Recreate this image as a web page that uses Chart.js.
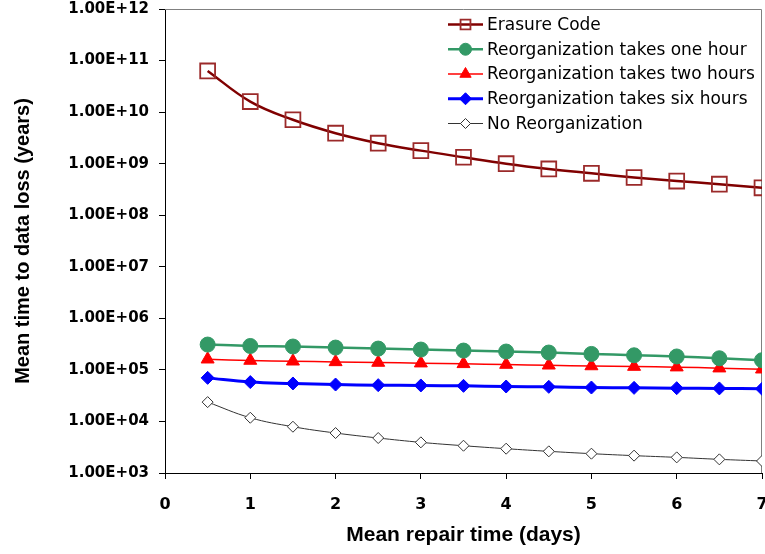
<!DOCTYPE html>
<html>
<head>
<meta charset="utf-8">
<script src="https://cdn.jsdelivr.net/npm/chart.js@4"></script>
<style>
  html, body { margin: 0; padding: 0; background: #fff; overflow: hidden; }
  #wrap { width: 765px; height: 554px; }
</style>
</head>
<body>
<div id="wrap"><canvas id="mttdl"></canvas></div>
<script>
// repair time in days
const repairDays = [0.5, 1, 1.5, 2, 2.5, 3, 3.5, 4, 4.5, 5, 5.5, 6, 6.5, 7];

const erasureCode = [6.3e10, 1.6e10, 7.1e9, 3.9e9, 2.5e9, 1.79e9, 1.33e9, 1.0e9, 7.9e8, 6.5e8, 5.4e8, 4.6e8, 4.0e8, 3.4e8];
const reorgOneHour = [3.1e5, 2.91e5, 2.84e5, 2.71e5, 2.59e5, 2.48e5, 2.37e5, 2.27e5, 2.17e5, 2.04e5, 1.92e5, 1.82e5, 1.68e5, 1.54e5];
const reorgTwoHours = [1.61e5, 1.52e5, 1.47e5, 1.43e5, 1.39e5, 1.35e5, 1.31e5, 1.27e5, 1.23e5, 1.19e5, 1.16e5, 1.13e5, 1.08e5, 1.03e5];
const reorgSixHours = [7.0e4, 5.8e4, 5.45e4, 5.2e4, 5.06e4, 4.99e4, 4.9e4, 4.76e4, 4.69e4, 4.55e4, 4.48e4, 4.42e4, 4.37e4, 4.29e4];
const noReorg = [2.37e4, 1.18e4, 7.9e3, 5.96e3, 4.77e3, 3.93e3, 3.38e3, 2.96e3, 2.63e3, 2.37e3, 2.17e3, 2.01e3, 1.84e3, 1.71e3];

const yTicks = [1e3, 1e4, 1e5, 1e6, 1e7, 1e8, 1e9, 1e10, 1e11, 1e12];
const xTicks = [0, 1, 2, 3, 4, 5, 6, 7];

function toPoints(values) {
    return values.map((v, i) => ({ x: repairDays[i], y: v }));
}

function sci(v) {
    const e = Math.round(Math.log10(v));
    return "1.00E+" + (e < 10 ? "0" + e : e);
}

// legend drawn inside the plot, top right, like the original
const insideLegend = {
    id: 'insideLegend',
    afterDraw(chart) {
        const ctx = chart.ctx;
        const x0 = 448;
        let y = 24.5;
        ctx.save();
        chart.data.datasets.forEach(ds => {
            ctx.strokeStyle = ds.borderColor;
            ctx.lineWidth = ds.borderWidth;
            ctx.beginPath();
            ctx.moveTo(x0, y);
            ctx.lineTo(x0 + 35, y);
            ctx.stroke();
            ctx.fillStyle = ds.pointBackgroundColor;
            ctx.strokeStyle = ds.pointBorderColor;
            ctx.lineWidth = ds.pointBorderWidth;
            Chart.helpers.drawPoint(ctx, {
                pointStyle: ds.pointStyle,
                radius: ds.legendRadius,
                rotation: 0,
                borderWidth: ds.pointBorderWidth
            }, x0 + 17.5, y);
            ctx.fillStyle = '#000';
            ctx.font = '17px "DejaVu Sans", sans-serif';
            ctx.textBaseline = 'middle';
            ctx.textAlign = 'left';
            ctx.fillText(ds.label, x0 + 39, y + 1);
            y += 24.75;
        });
        ctx.restore();
    }
};

// grey frame on top and right
const frame = {
    id: 'frame',
    beforeDatasetsDraw(chart) {
        const a = chart.chartArea;
        const ctx = chart.ctx;
        ctx.save();
        ctx.strokeStyle = '#808080';
        ctx.lineWidth = 1;
        ctx.beginPath();
        ctx.moveTo(a.left, a.top + 0.5);
        ctx.lineTo(a.right - 0.5, a.top + 0.5);
        ctx.lineTo(a.right - 0.5, a.bottom);
        ctx.stroke();
        ctx.restore();
    }
};

const ctx = document.getElementById('mttdl').getContext('2d');
const chart = new Chart(ctx, {
    type: 'line',
    data: {
        datasets: [
            {
                label: "Erasure Code",
                data: toPoints(erasureCode),
                borderColor: "#800000",
                borderWidth: 2.5,
                pointStyle: 'rect',
                pointRadius: 10.5,
                legendRadius: 7,
                pointBorderColor: "#9b2a2a",
                pointBackgroundColor: "rgba(0,0,0,0)",
                pointBorderWidth: 1.8,
                tension: 0.4
            }, {
                label: "Reorganization takes one hour",
                data: toPoints(reorgOneHour),
                borderColor: "#339966",
                borderWidth: 2.5,
                pointStyle: 'circle',
                pointRadius: 7.5,
                legendRadius: 6,
                pointBorderColor: "#339966",
                pointBackgroundColor: "#339966",
                pointBorderWidth: 1,
                tension: 0.4
            }, {
                label: "Reorganization takes two hours",
                data: toPoints(reorgTwoHours),
                borderColor: "#ff0000",
                borderWidth: 1.5,
                pointStyle: 'triangle',
                pointRadius: 7.5,
                legendRadius: 6.5,
                pointBorderColor: "#ff0000",
                pointBackgroundColor: "#ff0000",
                pointBorderWidth: 1,
                tension: 0.4
            }, {
                label: "Reorganization takes six hours",
                data: toPoints(reorgSixHours),
                borderColor: "#0000ff",
                borderWidth: 3,
                pointStyle: 'rectRot',
                pointRadius: 6.5,
                legendRadius: 6,
                pointBorderColor: "#0000ff",
                pointBackgroundColor: "#0000ff",
                pointBorderWidth: 1,
                tension: 0.4
            }, {
                label: "No Reorganization",
                data: toPoints(noReorg),
                borderColor: "#333333",
                borderWidth: 1,
                pointStyle: 'rectRot',
                pointRadius: 5.5,
                legendRadius: 5,
                pointBorderColor: "#333333",
                pointBackgroundColor: "#ffffff",
                pointBorderWidth: 1,
                tension: 0.4
            }]
    },
    options: {
        responsive: true,
        maintainAspectRatio: false,
        animation: false,
        layout: { autoPadding: false, padding: { top: 9, right: 3, left: 0, bottom: 0 } },
        plugins: {
            legend: { display: false },
            tooltip: { enabled: false }
        },
        scales: {
            x: {
                type: 'linear',
                min: 0,
                max: 7,
                afterBuildTicks: scale => { scale.ticks = xTicks.map(v => ({ value: v })); },
                afterFit: scale => {
                    scale.height = 81;
                    scale.paddingLeft = 0;
                    scale.paddingRight = 0;
                },
                grid: {
                    drawOnChartArea: false,
                    drawTicks: true,
                    tickLength: 6,
                    color: '#000'
                },
                border: { color: '#000', width: 1 },
                ticks: {
                    color: '#000',
                    padding: 16,
                    font: { family: '"DejaVu Sans", sans-serif', size: 16, weight: 'bold' }
                },
                title: {
                    display: true,
                    text: "Mean repair time (days)",
                    color: '#000',
                    padding: { top: 4, bottom: 6 },
                    font: { family: '"Liberation Sans", Arial, sans-serif', size: 21, weight: 'bold' }
                }
            },
            y: {
                type: 'logarithmic',
                min: 1e3,
                max: 1e12,
                afterBuildTicks: scale => { scale.ticks = yTicks.map(v => ({ value: v })); },
                afterFit: scale => {
                    scale.width = 165;
                    scale.paddingTop = 0;
                    scale.paddingBottom = 0;
                },
                grid: {
                    drawOnChartArea: false,
                    drawTicks: true,
                    tickLength: 6,
                    color: '#000'
                },
                border: { color: '#000', width: 1 },
                ticks: {
                    color: '#000',
                    padding: 10,
                    autoSkip: false,
                    callback: v => sci(v),
                    font: { family: '"DejaVu Sans", sans-serif', size: 15, weight: 'bold' }
                },
                title: {
                    display: true,
                    text: "Mean time to data loss (years)",
                    color: '#000',
                    padding: { top: 11, bottom: 0 },
                    font: { family: '"Liberation Sans", Arial, sans-serif', size: 20, weight: 'bold' }
                }
            }
        }
    },
    plugins: [frame, insideLegend]
});
</script>
</body>
</html>
